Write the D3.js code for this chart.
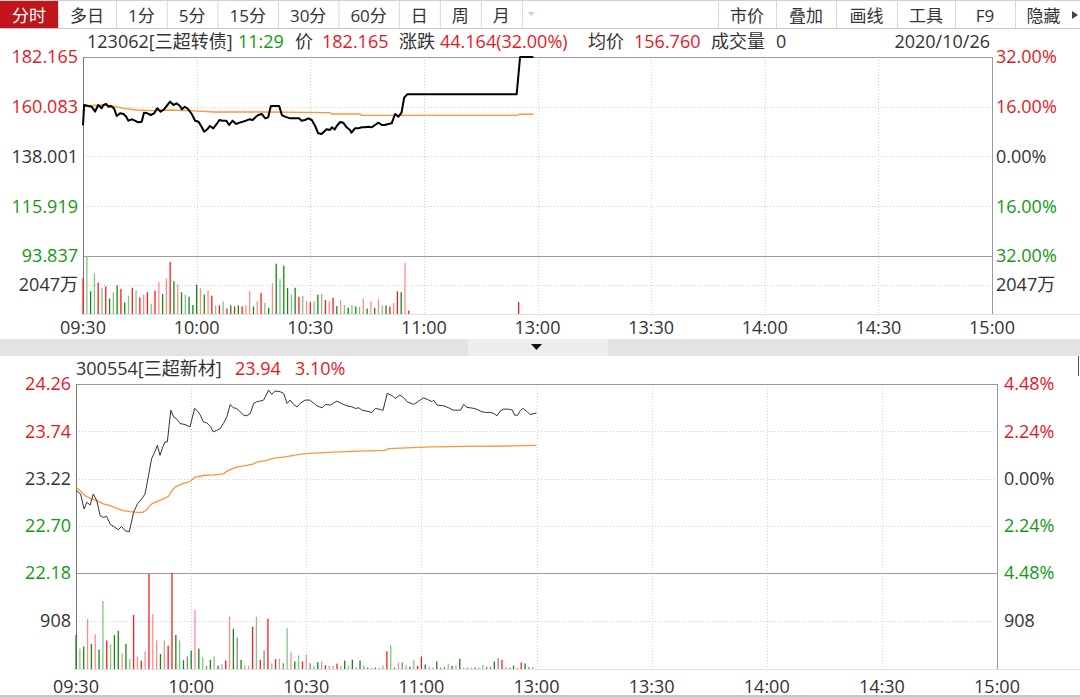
<!DOCTYPE html>
<html>
<head>
<meta charset="utf-8">
<script src="https://cdn.jsdelivr.net/npm/d3@7"></script>
<style>
  body { margin: 0; background: #fff; }
  svg { display: block; font-family: "Open Sans", "Noto Sans CJK SC", sans-serif; }
</style>
</head>
<body>
<svg id="chart" width="1080" height="697"></svg>
<script>
// ---- toolbar labels
const tabsLeft = ["分时", "多日", "1分", "5分", "15分", "30分", "60分", "日", "周", "月"];
const tabsRight = ["市价", "叠加", "画线", "工具", "F9", "隐藏"];

// ---- time axis (minutes from 09:30, lunch break collapsed)
const timeLabels = ["09:30", "10:00", "10:30", "11:00", "13:00", "13:30", "14:00", "14:30", "15:00"];
const timeTickMin = [0, 30, 60, 90, 120, 150, 180, 210, 240];

// ---- 123062 三超转债
const bondPrev = 138.001;
const bondPriceTicks = [182.165, 160.083, 138.001, 115.919, 93.837];
const bondPctTicks = ["32.00%", "16.00%", "0.00%", "16.00%", "32.00%"];
const bondVolMax = 4094;
const bondVolLabel = "2047万";
const bondLine = [
  [0, 151.83], [0.3, 160.86], [1.4, 160.42], [2.3, 160.12], [3.2, 157.90], [4.0, 160.86], [4.9, 159.38],
  [5.4, 160.86], [6.1, 161.30], [6.7, 160.12], [7.3, 160.42], [8.2, 159.38], [8.9, 155.98], [9.8, 157.16],
  [10.7, 156.87], [11.4, 155.68], [12.0, 153.90], [12.9, 154.50], [13.7, 153.90], [14.6, 153.17], [15.5, 153.46],
  [16.1, 157.46], [17.0, 157.16], [17.9, 156.42], [18.8, 157.16], [19.6, 159.38], [20.5, 157.90], [21.4, 158.94],
  [22.1, 160.42], [23.0, 162.34], [23.9, 160.86], [24.7, 161.60], [25.6, 160.42], [26.1, 158.94], [26.9, 160.12],
  [27.8, 158.94], [28.7, 156.87], [29.6, 153.90], [30.5, 153.46], [31.3, 151.24], [32.0, 149.02], [32.8, 150.06],
  [33.5, 151.54], [34.4, 150.50], [35.3, 152.43], [36.0, 154.20], [36.9, 153.90], [37.8, 153.90], [38.6, 151.98],
  [39.5, 153.90], [40.4, 152.43], [41.3, 153.02], [42.2, 153.46], [43.0, 153.90], [43.9, 154.50], [44.8, 154.20],
  [45.7, 155.68], [46.3, 156.42], [47.2, 156.87], [48.1, 154.94], [48.9, 155.38], [49.6, 160.42], [50.7, 160.42],
  [51.8, 160.42], [52.5, 156.42], [53.3, 155.68], [54.7, 154.94], [56.0, 154.94], [57.1, 154.94], [57.7, 153.90],
  [58.6, 154.20], [59.5, 154.94], [60.4, 154.20], [61.3, 151.54], [62.1, 148.29], [63.0, 147.99], [63.9, 149.47],
  [64.3, 150.06], [65.2, 149.76], [65.7, 150.95], [66.5, 150.06], [67.0, 151.54], [67.9, 153.32], [68.7, 153.02],
  [69.6, 150.95], [70.5, 149.76], [70.9, 148.58], [71.8, 150.50], [72.7, 150.50], [73.6, 150.95], [74.5, 150.95],
  [75.3, 151.24], [76.2, 150.95], [77.1, 151.98], [78.0, 153.02], [78.9, 151.98], [79.7, 151.98], [80.6, 152.43],
  [81.5, 152.72], [82.4, 156.87], [83.3, 155.68], [84.1, 157.46], [84.8, 164.10], [85.6, 165.60], [114.5, 165.60],
  [115.4, 182.165], [118.9, 182.165]
];
const bondAvg = [
  [0, 157.90], [0.4, 160.42], [5.4, 160.86], [8.0, 160.42], [10.7, 159.38], [14.2, 158.64], [18.6, 158.34],
  [23.0, 158.64], [27.4, 158.34], [31.8, 158.05], [34.4, 157.75], [49.4, 157.75], [58.2, 157.60], [65.2, 157.46],
  [65.7, 156.87], [73.1, 156.87], [73.6, 156.27], [114.5, 156.27], [115.4, 156.76], [118.9, 156.76]
];
const bondVolMin = d3.range(87).concat([115]);
const bondVol = [
  2510, 4094, 1608, 2876, 2218, 1852, 1950, 1097, 1535, 2023,
  1779, 804, 1292, 1852, 1657, 1170, 1365, 1535, 731, 1657,
  2242, 1413, 2510, 3680, 2315, 2096, 1535, 1365, 1219, 634,
  2071, 1828, 1365, 1657, 1292, 609, 609, 877, 390, 609,
  536, 609, 536, 609, 1608, 536, 902, 1487, 780, 439,
  2169, 3558, 2461, 3412, 1828, 1389, 1852, 1219, 1292, 926,
  853, 902, 1365, 1413, 999, 902, 1145, 561, 975, 634,
  439, 634, 536, 512, 1097, 390, 902, 439, 1024, 609,
  609, 536, 780, 1608, 1535, 3607, 244, 853
];
// r up, R up (light), g down, G down (light), n flat
const bondVolDir = "rGgGrGrgGg" + "rgGrGrRrGr" + "RgRrgRgGgg" + "gRgRrGrGrg" + "rgrRRgRrGg" +
  "RgGggGgrGR" + "rGgGrRrgRG" + "gGgGRgRgRG" + "grRrgRr" + "r";

// ---- 300554 三超新材
const stockPrev = 23.22;
const stockPriceTicks = [24.26, 23.74, 23.22, 22.70, 22.18];
const stockPctTicks = ["4.48%", "2.24%", "0.00%", "2.24%", "4.48%"];
const stockVolMax = 1816;
const stockVolLabel = "908";
const stockLine = [
  [0, 23.087], [0.6, 23.069], [1.2, 23.050], [2.1, 22.884], [2.8, 22.958], [3.7, 22.929], [4.5, 23.050],
  [5.4, 22.977], [6.3, 22.811], [7.1, 22.792], [8.0, 22.803], [8.9, 22.718], [10.2, 22.681], [11.0, 22.656],
  [11.9, 22.693], [12.8, 22.645], [13.9, 22.634], [15.0, 22.848], [16.0, 22.940], [17.1, 22.995], [18.0, 23.050],
  [18.9, 23.253], [19.7, 23.438], [20.6, 23.519], [21.2, 23.585], [21.9, 23.474], [22.6, 23.567], [23.2, 23.622],
  [23.8, 23.622], [24.7, 23.972], [25.4, 23.899], [26.3, 23.873], [27.1, 23.825], [28.4, 23.814], [29.7, 23.788],
  [30.9, 23.991], [31.7, 23.961], [32.3, 23.924], [33.2, 23.843], [34.1, 23.832], [35.1, 23.788], [35.8, 23.733],
  [36.7, 23.751], [37.6, 23.770], [38.4, 23.825], [39.3, 23.899], [40.2, 24.035], [41.0, 23.998], [41.9, 23.991],
  [42.8, 23.954], [43.7, 23.917], [44.5, 23.910], [45.4, 23.935], [46.3, 24.046], [47.1, 24.065], [48.0, 24.072],
  [48.9, 24.083], [50.2, 24.194], [51.0, 24.146], [51.9, 24.183], [53.2, 24.175], [54.1, 24.157], [55.0, 24.046],
  [55.8, 24.083], [56.7, 24.035], [57.6, 24.009], [58.4, 24.046], [59.7, 24.083], [60.9, 24.083], [62.8, 24.020],
  [64.1, 23.998], [65.0, 24.035], [66.3, 24.028], [68.0, 24.072], [69.3, 24.042], [70.6, 24.020], [71.9, 24.009],
  [72.8, 23.991], [73.7, 23.998], [74.5, 23.972], [75.8, 23.961], [77.1, 23.947], [78.0, 23.991], [79.3, 23.980],
  [80.0, 23.969], [81.1, 24.157], [82.4, 24.131], [83.2, 24.101], [84.4, 24.138], [85.4, 24.109], [86.3, 24.065],
  [88.0, 24.035], [89.3, 24.072], [90.6, 24.109], [91.9, 24.083], [92.8, 24.065], [93.2, 24.083], [94.1, 24.028],
  [95.8, 24.020], [97.1, 23.998], [98.3, 23.972], [99.3, 23.972], [100.2, 23.972], [101.0, 24.035], [101.9, 24.002],
  [102.8, 23.998], [103.7, 23.991], [104.5, 23.980], [105.8, 23.954], [106.7, 23.947], [108.0, 23.947], [108.9, 23.935],
  [109.7, 23.910], [110.6, 23.965], [111.5, 23.983], [112.8, 23.983], [113.7, 23.972], [114.3, 23.917], [115.1, 23.917],
  [115.8, 23.969], [116.5, 23.991], [117.6, 23.954], [118.3, 23.924], [120.0, 23.940]
];
const stockAvg = [
  [0, 23.124], [1.0, 23.087], [2.3, 23.032], [3.7, 23.002], [5.4, 22.976], [7.1, 22.940], [8.9, 22.921],
  [10.6, 22.892], [12.3, 22.866], [14.1, 22.855], [15.8, 22.848], [17.4, 22.848], [18.4, 22.877], [19.7, 22.940],
  [21.0, 22.966], [22.8, 22.995], [24.1, 23.025], [25.0, 23.087], [25.8, 23.124], [27.6, 23.161], [29.7, 23.187],
  [31.0, 23.235], [33.2, 23.253], [35.8, 23.261], [38.4, 23.272], [39.7, 23.309], [41.9, 23.345], [44.5, 23.364],
  [46.3, 23.382], [47.1, 23.401], [49.7, 23.419], [51.5, 23.445], [54.1, 23.456], [56.7, 23.475], [58.4, 23.489],
  [60.9, 23.497], [67.1, 23.511], [73.7, 23.522], [80.6, 23.530], [81.5, 23.548], [87.6, 23.559], [92.8, 23.567],
  [101.5, 23.574], [113.7, 23.578], [120.0, 23.585]
];
const stockVolMin = d3.range(120);
const stockVol = [
  644, 386, 425, 947, 477, 657, 367, 1288, 541, 464,
  644, 721, 296, 477, 193, 1024, 238, 155, 335, 1803,
  1043, 541, 283, 541, 444, 1816, 644, 541, 167, 238,
  348, 1121, 386, 219, 58, 174, 238, 64, 90, 161,
  992, 760, 592, 174, 64, 64, 799, 992, 174, 348,
  953, 109, 187, 193, 109, 773, 316, 142, 258, 142,
  270, 109, 58, 129, 142, 71, 58, 64, 103, 52,
  161, 58, 174, 39, 161, 58, 26, 26, 26, 26,
  71, 335, 451, 26, 122, 129, 71, 45, 174, 58,
  238, 84, 45, 26, 142, 26, 45, 103, 58, 71,
  193, 26, 26, 26, 26, 26, 77, 45, 45, 142,
  206, 174, 39, 26, 64, 26, 122, 103, 39, 39
];
const stockVolDir = "gGgRgRgGrG" + "ggRgGrRrRr" + "RRgRrrgGgn" + "gRgGngGrGr" + "RgngGRrGrn" +
  "rGrGnGRgGr" + "RnGgGrGRrG" + "gGgRgngGgG" + "GrGgRnGgGr" + "rgGGgnnGgR" + "gRnGgGGnng" + "nrRngRrgnG";

// ---- colours
const RED = "#e8171f", GREEN = "#139a13", DARK = "#333";
const volColor = { r: "#ff1a1a", R: "#ff8c8c", g: "#108a10", G: "#86c486", n: "#888" };

const svg = d3.select("#chart");
const FS = 18;

// ---------- toolbar
const bar = svg.append("g");
bar.append("line").attr("x1", 0).attr("x2", 1080).attr("y1", 0.5).attr("y2", 0.5).attr("stroke", "#d0d0d0");
bar.append("line").attr("x1", 0).attr("x2", 1080).attr("y1", 28.5).attr("y2", 28.5).attr("stroke", "#c8c8c8");
let tx = 0;
tabsLeft.forEach((t, i) => {
  const g = bar.append("g");
  const label = g.append("text").attr("y", 16).attr("dy", "0.35em").attr("font-size", 17)
    .attr("fill", i === 0 ? "#fff" : DARK).text(t);
  const w = label.node().getComputedTextLength() + 24;
  if (i === 0) g.insert("rect", "text").attr("x", 0).attr("y", 1).attr("width", w).attr("height", 27).attr("fill", "#c0161b");
  label.attr("x", tx + w / 2).attr("text-anchor", "middle");
  tx += w;
  bar.append("line").attr("x1", tx + 0.5).attr("x2", tx + 0.5).attr("y1", 1).attr("y2", 28).attr("stroke", "#d8d8d8");
});
bar.append("path").attr("d", `M${tx + 6},12 l7,0 l-3.5,4 z`).attr("fill", "#c8d0dc");
const rw = [58, 60, 61, 58, 60, 65];
let rx = 1080 - d3.sum(rw);
tabsRight.forEach((t, i) => {
  bar.append("line").attr("x1", rx + 0.5).attr("x2", rx + 0.5).attr("y1", 1).attr("y2", 28).attr("stroke", "#d8d8d8");
  bar.append("text").attr("x", rx + rw[i] / 2 - (i === 5 ? 4 : 0)).attr("y", 16).attr("dy", "0.35em")
    .attr("text-anchor", "middle").attr("font-size", 17).attr("fill", DARK).text(t);
  rx += rw[i];
});
bar.append("path").attr("d", "M1072,11 l6,4 l-6,4 z").attr("fill", "#444");

// ---------- generic panel
function drawPanel(p) {
  const g = svg.append("g");
  const x = d3.scaleLinear().domain([0, 240]).range([p.x0, p.x1]);
  const y = d3.scaleLinear().domain([p.priceTicks[4], p.priceTicks[0]]).range([p.y1, p.y0]);
  const v = d3.scaleLinear().domain([0, p.volMax]).range([p.v1, p.y1]);
  const vMid = v(p.volMax / 2);

  // grid
  const grid = g.append("g").attr("stroke", "#cfcfcf").attr("stroke-dasharray", "1,2");
  grid.selectAll("line.h").data(p.priceTicks.slice(1, 4)).join("line")
    .attr("x1", p.x0).attr("x2", p.x1).attr("y1", d => Math.round(y(d)) + 0.5).attr("y2", d => Math.round(y(d)) + 0.5);
  grid.append("line").attr("x1", p.x0).attr("x2", p.x1).attr("y1", Math.round(vMid) + 0.5).attr("y2", Math.round(vMid) + 0.5);
  grid.selectAll("line.v").data(timeTickMin.slice(1, 8)).join("line")
    .attr("x1", d => Math.round(x(d)) + 0.5).attr("x2", d => Math.round(x(d)) + 0.5).attr("y1", p.y0).attr("y2", p.v1);

  // frame
  const frame = g.append("g").attr("stroke", "#9a9a9a").attr("fill", "none");
  frame.append("line").attr("x1", p.x0).attr("x2", p.x1).attr("y1", p.y0 + 0.5).attr("y2", p.y0 + 0.5);
  frame.append("line").attr("x1", p.x0).attr("x2", p.x1).attr("y1", Math.round(p.y1) + 0.5).attr("y2", Math.round(p.y1) + 0.5);
  frame.append("line").attr("x1", p.x0 - 2).attr("x2", 1080).attr("y1", p.v1 + 0.5).attr("y2", p.v1 + 0.5).attr("stroke", "#dedede");
  frame.append("line").attr("x1", p.x0 + 0.5).attr("x2", p.x0 + 0.5).attr("y1", p.y0).attr("y2", p.v1).attr("stroke", "#777");
  frame.append("line").attr("x1", p.x1 + 0.5).attr("x2", p.x1 + 0.5).attr("y1", p.y0).attr("y2", p.v1);

  // tick labels
  const colorOf = d => d > p.prev + 1e-9 ? RED : d < p.prev - 1e-9 ? GREEN : DARK;
  g.selectAll("text.l").data(p.priceTicks).join("text")
    .attr("x", p.lx).attr("y", d => y(d)).attr("dy", "0.35em").attr("text-anchor", "end")
    .attr("font-size", FS).attr("fill", colorOf).text(d => p.fmt(d));
  g.selectAll("text.r").data(p.pctTicks).join("text")
    .attr("x", p.rx).attr("y", (d, i) => y(p.priceTicks[i])).attr("dy", "0.35em")
    .attr("font-size", FS).attr("fill", (d, i) => colorOf(p.priceTicks[i])).text(d => d);
  g.append("text").attr("x", p.lx).attr("y", vMid).attr("dy", "0.35em").attr("text-anchor", "end")
    .attr("font-size", FS).attr("fill", DARK).text(p.volLabel);
  g.append("text").attr("x", p.rx).attr("y", vMid).attr("dy", "0.35em")
    .attr("font-size", FS).attr("fill", DARK).text(p.volLabel);

  // time axis
  g.selectAll("text.t").data(timeTickMin).join("text")
    .attr("x", d => x(d)).attr("y", p.ty).attr("dy", "0.35em").attr("text-anchor", "middle")
    .attr("font-size", FS).attr("fill", DARK).text((d, i) => timeLabels[i]);

  // volume
  g.append("g").selectAll("rect").data(p.vol).join("rect")
    .attr("x", (d, i) => x(p.volMin[i]) - 0.6).attr("width", 1.3)
    .attr("y", d => v(d)).attr("height", d => p.v1 - v(d))
    .attr("fill", (d, i) => volColor[p.volDir[i]]);

  // lines
  const line = d3.line().x(d => x(d[0])).y(d => y(d[1]));
  g.append("path").datum(p.avg).attr("d", line).attr("fill", "none")
    .attr("stroke", "#ff8a1e").attr("stroke-width", 1.3).attr("stroke-opacity", 0.9);
  g.append("path").datum(p.line).attr("d", line).attr("fill", "none")
    .attr("stroke", p.lineColor).attr("stroke-width", p.lineWidth).attr("stroke-linejoin", "round");
  return g;
}

drawPanel({
  x0: 83, x1: 992, y0: 57, y1: 256, v1: 314, ty: 328, lx: 78, rx: 996,
  priceTicks: bondPriceTicks, pctTicks: bondPctTicks, prev: bondPrev, fmt: d3.format(".3f"),
  volMax: bondVolMax, volLabel: bondVolLabel, vol: bondVol, volMin: bondVolMin, volDir: bondVolDir,
  line: bondLine, avg: bondAvg, lineColor: "#000", lineWidth: 2
});

// separator band
svg.append("rect").attr("x", 0).attr("y", 339).attr("width", 1080).attr("height", 17).attr("fill", "#e3e3e3");
svg.append("rect").attr("x", 468).attr("y", 339).attr("width", 140).attr("height", 17).attr("fill", "#eeeeee");
svg.append("path").attr("d", "M531,344 l11,0 l-5.5,6 z").attr("fill", "#111");
svg.append("line").attr("x1", 1078.5).attr("x2", 1078.5).attr("y1", 356).attr("y2", 376).attr("stroke", "#555");

drawPanel({
  x0: 76, x1: 997, y0: 384, y1: 573, v1: 669, ty: 687, lx: 71, rx: 1004,
  priceTicks: stockPriceTicks, pctTicks: stockPctTicks, prev: stockPrev, fmt: d3.format(".2f"),
  volMax: stockVolMax, volLabel: stockVolLabel, vol: stockVol, volMin: stockVolMin, volDir: stockVolDir,
  line: stockLine, avg: stockAvg, lineColor: "#333", lineWidth: 1
});
svg.append("line").attr("x1", 0).attr("x2", 1080).attr("y1", 696).attr("y2", 696).attr("stroke", "#c8c8c8").attr("stroke-width", 2);

// ---------- headers (segments placed at the reference's x positions)
function header(items, yy) {
  items.forEach(([s, c, xx]) => svg.append("text").attr("x", xx).attr("y", yy).attr("dy", "0.35em")
    .attr("font-size", FS).attr("fill", c).text(s));
}
header([
  ["123062[三超转债]", DARK, 87], ["11:29", GREEN, 238], ["价", DARK, 295], ["182.165", RED, 322],
  ["涨跌", DARK, 399], ["44.164(32.00%)", RED, 440], ["均价", DARK, 588], ["156.760", RED, 634],
  ["成交量", DARK, 711], ["0", DARK, 776]
], 42);
svg.append("text").attr("x", 990).attr("y", 42).attr("dy", "0.35em").attr("text-anchor", "end")
  .attr("font-size", FS).attr("fill", DARK).text("2020/10/26");
header([["300554[三超新材]", DARK, 76], ["23.94", RED, 235], ["3.10%", RED, 295]], 369);
</script>
</body>
</html>
